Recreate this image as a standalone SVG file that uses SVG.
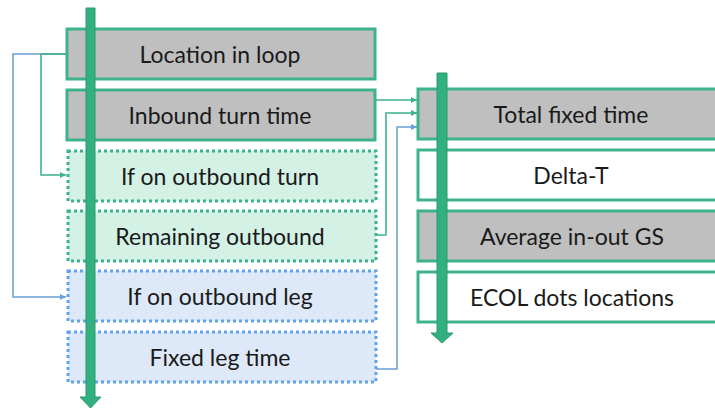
<svg xmlns="http://www.w3.org/2000/svg" width="715" height="410" viewBox="0 0 715 410">
  <defs>
    <style>
      .lbl { font-family: Lato, "Open Sans", "Liberation Sans", sans-serif; font-size: 23px; fill: #1a1a1a; text-anchor: middle; dominant-baseline: central; }
      .solid { stroke: #3cb38a; stroke-width: 3; }
      .grey { fill: #bfbfbf; }
      .white { fill: #ffffff; }
      .dotg { fill: #d3f1e5; stroke: #3cb38a; stroke-width: 3; stroke-dasharray: 3 3; }
      .dotb { fill: #dde9f8; stroke: #63a3ea; stroke-width: 3; stroke-dasharray: 3 3; }
      .cg { fill: none; stroke: #3cb38a; stroke-width: 1.6; }
      .cb { fill: none; stroke: #6a9fd8; stroke-width: 1.6; }
      .flow { fill: #33b07f; stroke: #2a9a6c; stroke-width: 1; }
    </style>
    <marker id="ag" viewBox="0 0 10 10" refX="10" refY="5" markerWidth="6" markerHeight="6" orient="auto" markerUnits="userSpaceOnUse">
      <path d="M0,0 L10,5 L0,10 z" fill="#3cb38a"/>
    </marker>
    <marker id="ab" viewBox="0 0 10 10" refX="10" refY="5" markerWidth="6" markerHeight="6" orient="auto" markerUnits="userSpaceOnUse">
      <path d="M0,0 L10,5 L0,10 z" fill="#6a9fd8"/>
    </marker>
  </defs>

  <rect width="715" height="410" fill="#ffffff"/>

  <!-- connectors -->
  <g id="connectors">
    <path class="cb" d="M66,54 H13 V297 H66" marker-end="url(#ab)"/>
    <path class="cg" d="M66,54 H41 V175 H66" marker-end="url(#ag)"/>
    <path class="cg" d="M375,100 H417" marker-end="url(#ag)"/>
    <path class="cg" d="M375,235 H386 V113 H417" marker-end="url(#ag)"/>
    <path class="cb" d="M375,369 H397 V127 H417" marker-end="url(#ab)"/>
  </g>

  <!-- left column -->
  <g id="location-in-loop">
    <rect class="solid grey" x="67" y="29" width="308" height="50"/>
    <text class="lbl" x="220" y="54">Location in loop</text>
  </g>
  <g id="inbound-turn-time">
    <rect class="solid grey" x="67" y="90" width="308" height="50"/>
    <text class="lbl" x="220" y="115">Inbound turn time</text>
  </g>
  <g id="if-on-outbound-turn">
    <rect class="dotg" x="68" y="151" width="308" height="50"/>
    <text class="lbl" x="220" y="176">If on outbound turn</text>
  </g>
  <g id="remaining-outbound">
    <rect class="dotg" x="68" y="211" width="308" height="50"/>
    <text class="lbl" x="220" y="236">Remaining outbound</text>
  </g>
  <g id="if-on-outbound-leg">
    <rect class="dotb" x="68" y="271" width="308" height="50"/>
    <text class="lbl" x="220" y="296">If on outbound leg</text>
  </g>
  <g id="fixed-leg-time">
    <rect class="dotb" x="68" y="332" width="308" height="50"/>
    <text class="lbl" x="220" y="357">Fixed leg time</text>
  </g>

  <!-- right column -->
  <g id="total-fixed-time">
    <rect class="solid grey" x="418" y="89" width="310" height="50"/>
    <text class="lbl" x="571" y="114">Total fixed time</text>
  </g>
  <g id="delta-t">
    <rect class="solid white" x="418" y="150" width="310" height="50"/>
    <text class="lbl" x="571" y="175">Delta-T</text>
  </g>
  <g id="average-in-out-gs">
    <rect class="solid grey" x="418" y="211" width="310" height="50"/>
    <text class="lbl" x="572" y="236">Average in-out GS</text>
  </g>
  <g id="ecol-dots-locations">
    <rect class="solid white" x="418" y="272" width="310" height="50"/>
    <text class="lbl" x="572" y="297">ECOL dots locations</text>
  </g>

  <!-- sequence arrows -->
  <g id="flow-left">
    <path class="flow" d="M86,8 H95 V397 H101 L90.5,408 L80,397 H86 Z"/>
  </g>
  <g id="flow-right">
    <path class="flow" d="M437,73 H447 V333 H453 L442,343 L431,333 H437 Z"/>
  </g>
</svg>
